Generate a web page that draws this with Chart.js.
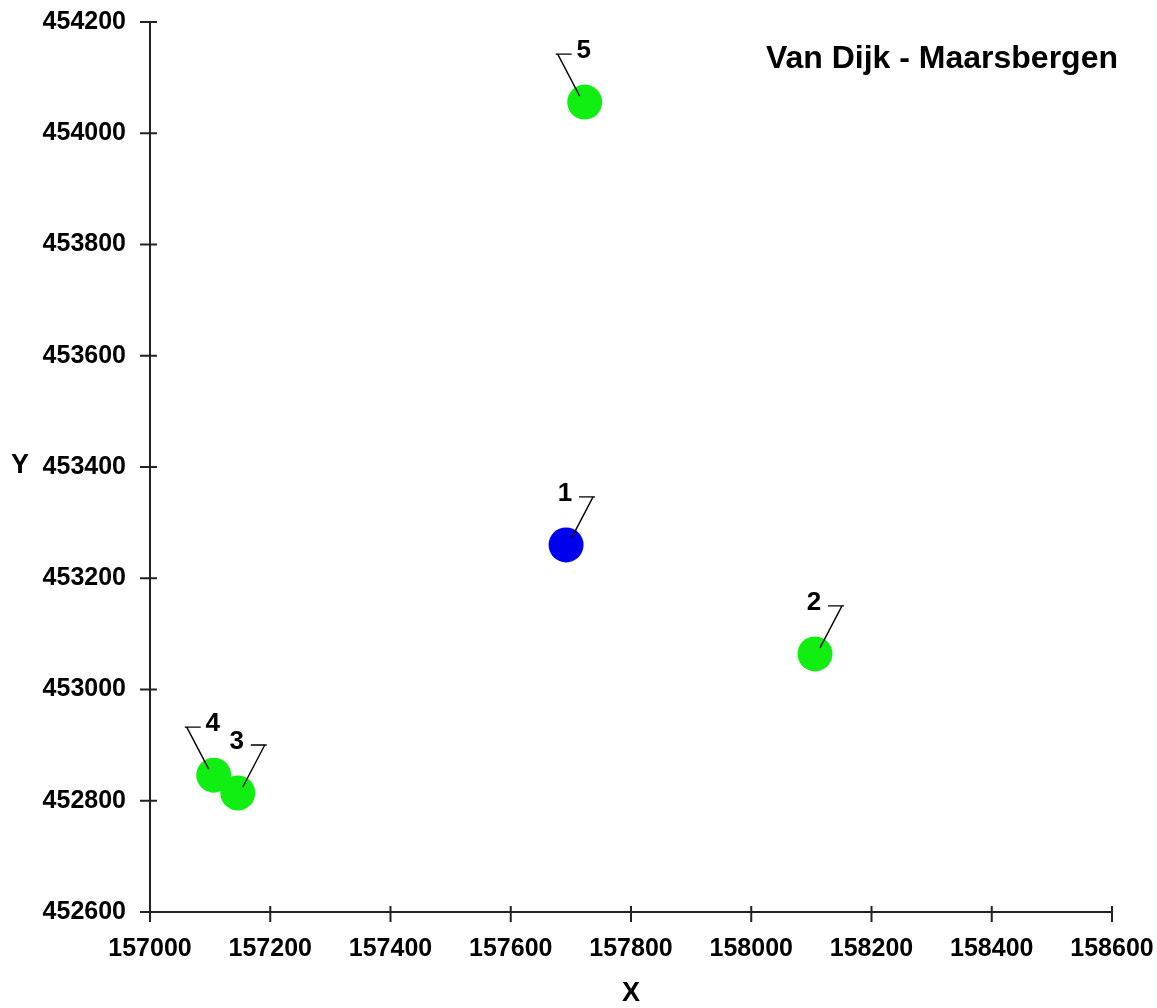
<!DOCTYPE html>
<html>
<head>
<meta charset="utf-8">
<title>Van Dijk - Maarsbergen</title>
<script src="https://cdn.jsdelivr.net/npm/chart.js@4"></script>
<style>
    body { margin: 0; background: #ffffff; }
    #wrap { width: 1157px; height: 1008px; }
</style>
</head>
<body>
<div id="wrap"><canvas id="locChart" width="1157" height="1008"></canvas></div>
<script>
// Meetpunten (RD-coordinaten)
let pointIds = ['1', '2', '3', '4', '5'];
let xValues = [157692, 158106, 157146, 157106, 157723];
let yValues = [453260, 453064, 452814, 452846, 454056];
let pointColors = ['#0000ee', '#11ee11', '#11ee11', '#11ee11', '#11ee11'];
let labelSides = ['right', 'right', 'right', 'left', 'left'];

let xTickValues = [157000, 157200, 157400, 157600, 157800, 158000, 158200, 158400, 158600];
let yTickValues = [452600, 452800, 453000, 453200, 453400, 453600, 453800, 454000, 454200];

let chartTitle = 'Van Dijk - Maarsbergen';
let fontFamily = '"Liberation Sans", Arial, sans-serif';

let points = pointIds.map((id, i) => ({ x: xValues[i], y: yValues[i] }));

// axes with ticks that cross the axis line
const crossAxes = {
    id: 'crossAxes',
    afterDraw(chart) {
        const ctx = chart.ctx;
        const xs = chart.scales.x;
        const ys = chart.scales.y;
        const area = chart.chartArea;
        ctx.save();
        ctx.strokeStyle = '#222222';
        ctx.lineWidth = 2;
        ctx.beginPath();
        ctx.moveTo(area.left, area.top);
        ctx.lineTo(area.left, area.bottom);
        ctx.lineTo(area.right, area.bottom);
        xTickValues.forEach(v => {
            let px = xs.getPixelForValue(v);
            ctx.moveTo(px, area.bottom - 6);
            ctx.lineTo(px, area.bottom + 10);
        });
        yTickValues.forEach(v => {
            let py = ys.getPixelForValue(v);
            ctx.moveTo(area.left - 10, py);
            ctx.lineTo(area.left + 7, py);
        });
        ctx.stroke();

        ctx.fillStyle = '#000000';
        ctx.font = 'bold 27px ' + fontFamily;
        ctx.textAlign = 'center';
        ctx.textBaseline = 'middle';
        ctx.fillText('X', (area.left + area.right) / 2, 994);
        ctx.fillText('Y', 20, 466);

        ctx.font = 'bold 32px ' + fontFamily;
        ctx.textAlign = 'right';
        ctx.textBaseline = 'alphabetic';
        ctx.fillText(chartTitle, 1118, 68);
        ctx.restore();
    }
};

// point numbers with a small leader line
const pointLabels = {
    id: 'pointLabels',
    afterDatasetsDraw(chart) {
        const ctx = chart.ctx;
        const meta = chart.getDatasetMeta(0);
        ctx.save();
        ctx.strokeStyle = '#000000';
        ctx.lineWidth = 1.4;
        ctx.fillStyle = '#000000';
        ctx.font = 'bold 26px ' + fontFamily;
        ctx.textAlign = 'center';
        ctx.textBaseline = 'middle';
        meta.data.forEach((el, i) => {
            let cx = el.x;
            let cy = el.y;
            let s = labelSides[i] === 'right' ? 1 : -1;
            ctx.beginPath();
            ctx.moveTo(cx + s * 5, cy - 6);
            ctx.lineTo(cx + s * 27, cy - 48);
            ctx.moveTo(cx + s * 29, cy - 48);
            ctx.lineTo(cx + s * 13, cy - 48);
            ctx.stroke();
            ctx.fillText(pointIds[i], cx - 1, cy - 51);
        });
        ctx.restore();
    }
};

const ctx = document.getElementById('locChart').getContext('2d');
const locChart = new Chart(ctx, {
    type: 'scatter',
    data: {
        datasets: [{
            data: points,
            backgroundColor: pointColors,
            borderWidth: 0,
            pointRadius: 17.5,
            pointHoverRadius: 17.5
        }]
    },
    options: {
        responsive: false,
        devicePixelRatio: 1,
        animation: false,
        layout: {
            padding: { left: 0, top: 22, right: 45, bottom: 0 }
        },
        plugins: {
            legend: { display: false },
            tooltip: { enabled: false }
        },
        scales: {
            x: {
                type: 'linear',
                min: 157000,
                max: 158600,
                grid: { display: false, drawTicks: false },
                border: { display: false },
                afterBuildTicks: scale => { scale.ticks = xTickValues.map(v => ({ value: v })); },
                afterFit: scale => {
                    scale.height = 96;
                    // no extra room for the outer labels, the padding covers it
                    scale.paddingLeft = 0;
                    scale.paddingRight = 0;
                },
                ticks: {
                    padding: 22,
                    maxRotation: 0,
                    color: '#000000',
                    font: { family: fontFamily, size: 25, weight: 'bold' },
                    callback: v => String(v)
                }
            },
            y: {
                type: 'linear',
                min: 452600,
                max: 454200,
                grid: { display: false, drawTicks: false },
                border: { display: false },
                afterBuildTicks: scale => { scale.ticks = yTickValues.map(v => ({ value: v })); },
                afterFit: scale => {
                    scale.width = 150;
                    scale.paddingTop = 0;
                    scale.paddingBottom = 0;
                },
                ticks: {
                    padding: 24,
                    color: '#000000',
                    font: { family: fontFamily, size: 25, weight: 'bold' },
                    callback: v => String(v)
                }
            }
        }
    },
    plugins: [crossAxes, pointLabels]
});
</script>
</body>
</html>
